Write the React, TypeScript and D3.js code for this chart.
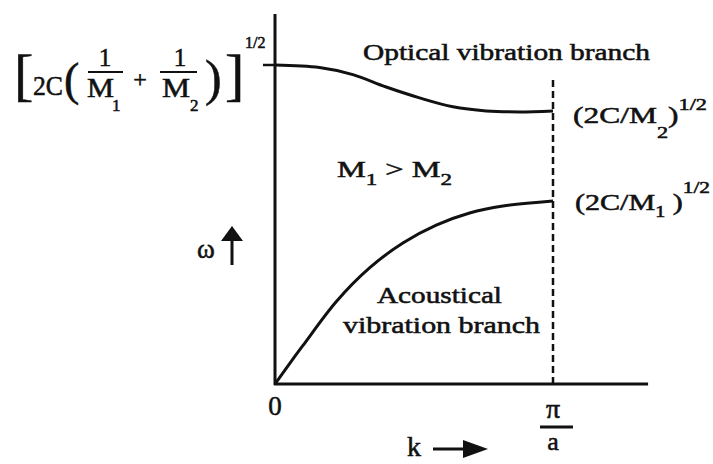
import React from "react";
import * as d3 from "d3";

// Dispersion curves of a diatomic chain (M1 > M2), k in units of π/a, ω normalised to the optical maximum
const kOptical = [0, 0.16, 0.28, 0.4, 0.52, 0.64, 0.76, 0.88, 1.0];
const omegaOptical = [1.0, 0.992, 0.97, 0.931, 0.897, 0.869, 0.856, 0.853, 0.856];

const kAcoustic = [0, 0.05, 0.1, 0.22, 0.34, 0.46, 0.58, 0.7, 0.82, 1.0];
const omegaAcoustic = [0, 0.061, 0.12, 0.258, 0.364, 0.442, 0.498, 0.536, 0.558, 0.574];

const kAxisEnd = 1.342;
const omegaAxisEnd = 1.16;
const omegaZoneTop = 0.953;

const serif = "Liberation Serif, Times New Roman, Tinos, Times, serif";

export default function App() {
  const x = d3.scaleLinear().domain([0, 1]).range([275, 553]);
  const y = d3.scaleLinear().domain([0, 1]).range([384, 65]);

  const line = d3
    .line<[number, number]>()
    .x((d) => x(d[0]))
    .y((d) => y(d[1]))
    .curve(d3.curveCatmullRom.alpha(0.5));

  const optical = line(kOptical.map((k, i) => [k, omegaOptical[i]]) as [number, number][]) || "";
  const acoustic = line(kAcoustic.map((k, i) => [k, omegaAcoustic[i]]) as [number, number][]) || "";

  const ink = "#111";
  const txt = { fill: ink, stroke: ink, strokeWidth: 0.55, style: { fontFamily: serif } } as const;

  return (
    <svg
      width={713}
      height={464}
      style={{ position: "absolute", left: 0, top: 0, background: "#fff", fontFamily: serif }}
    >
      <rect width={713} height={464} fill="#fff" />

      {/* axes */}
      <line x1={x(0)} x2={x(0)} y1={y(omegaAxisEnd)} y2={y(0) + 1} stroke={ink} strokeWidth={3} />
      <line x1={x(0) - 1} x2={x(kAxisEnd)} y1={y(0)} y2={y(0)} stroke={ink} strokeWidth={3} />
      <line x1={x(0) - 12} x2={x(0)} y1={y(1)} y2={y(1)} stroke={ink} strokeWidth={2.5} />

      {/* zone boundary k = π/a */}
      <line
        x1={x(1)}
        x2={x(1)}
        y1={y(omegaZoneTop)}
        y2={y(0)}
        stroke={ink}
        strokeWidth={2.5}
        strokeDasharray="7 4"
      />

      {/* branches */}
      <path d={optical} fill="none" stroke={ink} strokeWidth={3} />
      <path d={acoustic} fill="none" stroke={ink} strokeWidth={3} />

      {/* branch labels */}
      <text x={363} y={60} fontSize={23} textLength={287} lengthAdjust="spacingAndGlyphs" {...txt}>
        Optical vibration branch
      </text>
      <text x={337} y={177} fontSize={24} textLength={115} lengthAdjust="spacingAndGlyphs" {...txt}>
        M<tspan fontSize={17} dy={8}>1</tspan>
        <tspan dy={-8}> &gt; M</tspan>
        <tspan fontSize={17} dy={8}>2</tspan>
      </text>
      <text x={377} y={303} fontSize={24} textLength={125} lengthAdjust="spacingAndGlyphs" {...txt}>
        Acoustical
      </text>
      <text x={343} y={333} fontSize={24} textLength={197} lengthAdjust="spacingAndGlyphs" {...txt}>
        vibration branch
      </text>

      {/* zone-boundary frequencies */}
      <text x={573} y={123} fontSize={24} textLength={134} lengthAdjust="spacingAndGlyphs" {...txt}>
        (2C/M<tspan fontSize={17} dy={15}>2</tspan>
        <tspan dy={-15}>)</tspan>
        <tspan fontSize={17} dy={-13}>1/2</tspan>
      </text>
      <text x={575} y={210} fontSize={24} textLength={135} lengthAdjust="spacingAndGlyphs" {...txt}>
        (2C/M<tspan fontSize={16} dy={7}>1</tspan>
        <tspan dy={-7}> )</tspan>
        <tspan fontSize={17} dy={-17}>1/2</tspan>
      </text>

      {/* maximum optical frequency */}
      <g fill={ink} stroke={ink} strokeWidth={0.55} style={{ fontFamily: serif }}>
        <text x={14} y={94} fontSize={58}>[</text>
        <text x={33} y={95} fontSize={28} textLength={30} lengthAdjust="spacingAndGlyphs">2C</text>
        <text x={64} y={95} fontSize={46}>(</text>
        <text x={105} y={66} fontSize={25} textAnchor="middle">1</text>
        <line x1={88} x2={123} y1={72} y2={72} stroke={ink} strokeWidth={2} />
        <text x={87} y={97} fontSize={27} textLength={27} lengthAdjust="spacingAndGlyphs">M</text>
        <text x={112} y={111} fontSize={17}>1</text>
        <text x={140} y={87} fontSize={24} textAnchor="middle">+</text>
        <text x={180} y={66} fontSize={25} textAnchor="middle">1</text>
        <line x1={160} x2={197} y1={72} y2={72} stroke={ink} strokeWidth={2} />
        <text x={162} y={97} fontSize={27} textLength={28} lengthAdjust="spacingAndGlyphs">M</text>
        <text x={190} y={111} fontSize={17}>2</text>
        <text x={205} y={95} fontSize={50}>)</text>
        <text x={225} y={94} fontSize={58}>]</text>
        <text x={245} y={48} fontSize={16}>1/2</text>
      </g>

      {/* ω axis label with arrow */}
      <text x={197} y={258} fontSize={27} {...txt}>ω</text>
      <line x1={232} x2={232} y1={236} y2={265} stroke={ink} strokeWidth={3} />
      <polygon points="221,241 232,226 243,241" fill={ink} />

      {/* k axis labels */}
      <text x={x(0)} y={415} fontSize={27} textAnchor="middle" {...txt}>0</text>
      <text x={x(1)} y={418} fontSize={28} textAnchor="middle" {...txt}>π</text>
      <line x1={x(1) - 13} x2={x(1) + 20} y1={427} y2={427} stroke={ink} strokeWidth={3} />
      <text x={x(1)} y={450} fontSize={26} textAnchor="middle" {...txt}>a</text>

      <text x={407} y={456} fontSize={28} {...txt}>k</text>
      <line x1={433} x2={466} y1={449} y2={449} stroke={ink} strokeWidth={3} />
      <polygon points="463,440 488,449 463,458" fill={ink} />
    </svg>
  );
}
